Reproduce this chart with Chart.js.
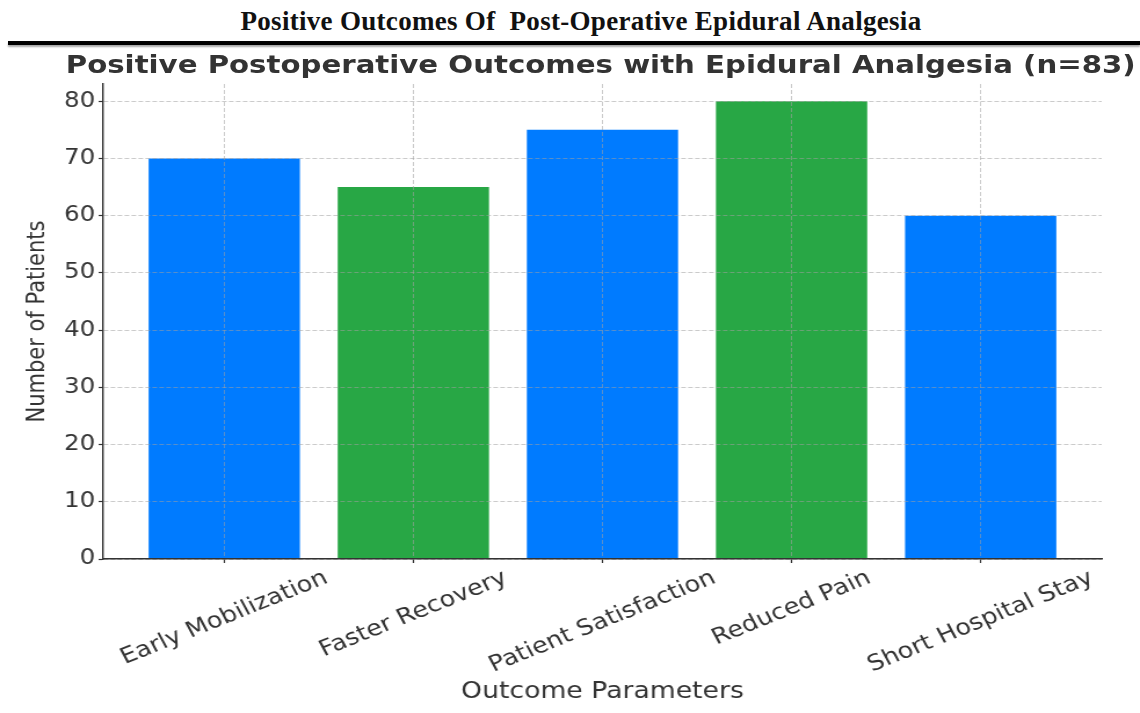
<!DOCTYPE html>
<html>
<head>
<meta charset="utf-8">
<title>Positive Outcomes Of Post-Operative Epidural Analgesia</title>
<script src="https://cdn.jsdelivr.net/npm/chart.js@4.4.1/dist/chart.umd.min.js"></script>
<style>
  html, body { margin: 0; padding: 0; background: #fff; }
  body { width: 1140px; height: 713px; overflow: hidden; position: relative; }
  #heading {
    position: absolute; left: 0; top: 6px; width: 1162px;
    text-align: center; white-space: pre; color: #111;
    font: bold 27px "Liberation Serif", serif; line-height: 30px; letter-spacing: 0.3px;
  }
  #rule {
    position: absolute; left: 8px; right: 0; top: 41px; height: 4px;
    background: #000; box-shadow: 0 2px 2px rgba(0,0,0,0.35);
  }
  /* the figure is drawn in a narrower box and widened horizontally */
  #stage {
    position: absolute; left: 0; top: 0; width: 983px; height: 713px;
    transform: scaleX(1.1597); transform-origin: 0 0;
  }
  #chartTitle {
    position: absolute; left: 0; top: 50px; width: 1036px;
    text-align: center; white-space: nowrap; color: #333;
    font: bold 25.2px "DejaVu Sans", sans-serif; line-height: 30px;
  }
  #c { position: absolute; left: 0; top: 0; }
</style>
</head>
<body>
<div id="heading">Positive Outcomes Of  Post-Operative Epidural Analgesia</div>
<div id="rule"></div>
<div id="stage">
  <div id="chartTitle">Positive Postoperative Outcomes with Epidural Analgesia (n=83)</div>
  <canvas id="c" width="983" height="713"></canvas>
</div>
<script>
// Outcome categories and number of patients (n = 83)
const categories = ['Early Mobilization', 'Faster Recovery', 'Patient Satisfaction', 'Reduced Pain', 'Short Hospital Stay'];
const patients = [70, 65, 75, 80, 60];
const barColors = ['#007bff', '#28a745', '#007bff', '#28a745', '#007bff'];
const yTicks = [0, 10, 20, 30, 40, 50, 60, 70, 80];
const yMax = 83;

const AXIS = '#333333';
const GRID = 'rgba(160,160,160,0.55)';
const tickFont = { family: 'DejaVu Sans', size: 21 };
const labelFont = { family: 'DejaVu Sans', size: 22 };
const axisTitleFont = { family: 'DejaVu Sans', size: 23 };
const LABEL_ROT = 25;
const X_MARGIN = 0.64;

new Chart(document.getElementById('c'), {
  type: 'bar',
  data: {
    datasets: [{
      data: categories.map((c, i) => ({ x: i, y: patients[i] })),
      backgroundColor: barColors,
      borderWidth: 0,
      barPercentage: 1,
      categoryPercentage: 0.8
    }]
  },
  options: {
    responsive: false,
    animation: false,
    layout: { padding: { top: 84, left: 0, right: 33, bottom: 0 } },
    plugins: { legend: { display: false }, tooltip: { enabled: false } },
    scales: {
      // category positions: grid lines and tick marks
      x: {
        type: 'linear', position: 'bottom', weight: 0, offset: false,
        min: -X_MARGIN, max: categories.length - 1 + X_MARGIN,
        afterBuildTicks(s) { s.ticks = categories.map((_, i) => ({ value: i })); },
        ticks: { display: false },
        grid: { offset: false, color: GRID, lineWidth: 1, z: 1, drawTicks: true, tickLength: 4, tickColor: AXIS, tickWidth: 1.2 },
        border: { display: true, color: AXIS, width: 1.4, dash: [4, 2], z: 2 },
        afterFit(s) { s.height = 4; s.paddingLeft = 0; s.paddingRight = 0; }
      },
      // rotated category names, each centred under its bar
      xl: {
        type: 'linear', axis: 'x', position: 'bottom', weight: 1, offset: false,
        min: -X_MARGIN, max: categories.length - 1 + X_MARGIN,
        afterBuildTicks(s) {
          const ctx = s.ctx;
          ctx.save();
          ctx.font = `${labelFont.size}px "${labelFont.family}"`;
          const ppu = s.width / (s.max - s.min);
          const cos = Math.cos(LABEL_ROT * Math.PI / 180);
          s.ticks = categories.map((c, i) => ({ value: i + ctx.measureText(c).width * cos / 2 / ppu }));
          ctx.restore();
        },
        ticks: {
          autoSkip: false, minRotation: LABEL_ROT, maxRotation: LABEL_ROT,
          padding: -6, font: labelFont, color: AXIS,
          callback: (v, i) => categories[i]
        },
        grid: { display: false, offset: false },
        border: { display: false },
        title: { display: true, text: 'Outcome Parameters', font: axisTitleFont, color: AXIS, padding: { top: 0, bottom: 7 } },
        afterFit(s) { s.height = 150; s.paddingLeft = 0; s.paddingRight = 0; }
      },
      y: {
        min: 0, max: yMax,
        afterBuildTicks(s) { s.ticks = yTicks.map(v => ({ value: v })); },
        ticks: { font: tickFont, color: AXIS, padding: 3 },
        grid: { color: GRID, lineWidth: 1, z: 1, tickLength: 4, tickColor: AXIS, tickWidth: 1.2 },
        border: { display: true, color: AXIS, width: 1.4, dash: [4, 2], z: 2 },
        title: { display: true, text: 'Number of Patients', font: { family: 'DejaVu Sans', size: 21 }, color: AXIS, padding: { top: 20, bottom: 0 } },
        afterFit(s) { s.width = 89; }
      }
    }
  }
});
</script>
</body>
</html>
